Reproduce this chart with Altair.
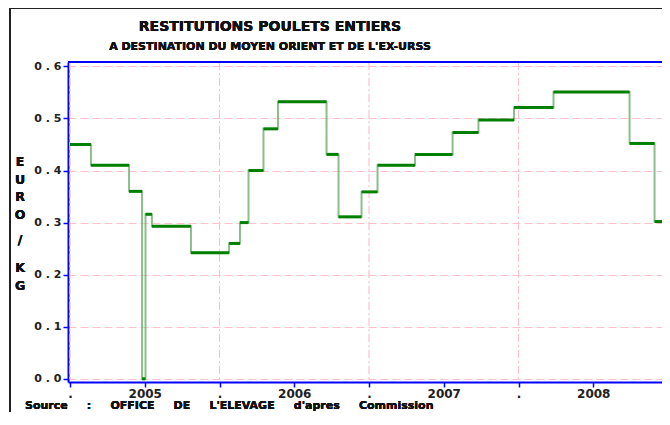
import altair as alt
import pandas as pd

# step start positions (decimal years) and price levels (EURO/KG)
step_start = [2004.500, 2004.640, 2004.895, 2004.982, 2005.005, 2005.048, 2005.309,
              2005.564, 2005.637, 2005.694, 2005.794, 2005.891, 2006.216, 2006.296,
              2006.450, 2006.557, 2006.808, 2007.059, 2007.232, 2007.470, 2007.734,
              2008.243, 2008.410]
step_value = [0.45, 0.41, 0.36, 0.0, 0.316, 0.293, 0.242,
              0.26, 0.30, 0.40, 0.48, 0.532, 0.431, 0.311,
              0.359, 0.41, 0.431, 0.473, 0.497, 0.521, 0.551,
              0.452, 0.302]
series_end = 2008.493

x_ticks = [2004.5, 2005.0, 2005.5, 2006.0, 2006.5, 2007.0, 2007.5, 2008.0, 2008.5]
v_grid = [2004.5, 2005.5, 2006.5, 2007.5]
y_ticks = [0.0, 0.1, 0.2, 0.3, 0.4, 0.5, 0.6]

NB = "\u00a0"
GAP = NB * 5
title_text = "RESTITUTIONS POULETS ENTIERS"
subtitle_text = "A DESTINATION DU MOYEN ORIENT ET DE L'EX-URSS"
source_words = ["Source", ":", "OFFICE", "DE", "L'ELEVAGE", "d'apres", "Commission"]
source_text = GAP.join(source_words)
ytitle_a = ["E", "U", "R", "O"]
ytitle_b = ["/"]
ytitle_c = ["K", "G"]

FONT = "DejaVu Sans"
W, H = 594, 320
xdom = [2004.4866, 2004.4866 + W / 149.5]
ydom = [-0.0061, 0.6084]

ends = step_start[1:] + [series_end]
seg = pd.DataFrame({"x": step_start, "x2": ends, "v": step_value})
line_df = pd.DataFrame({"x": step_start + [series_end], "v": step_value + [step_value[-1]]})
grid_df = pd.DataFrame({"x": v_grid})

xs = alt.Scale(domain=xdom, nice=False, zero=False)
ys = alt.Scale(domain=ydom, nice=False, zero=False)

x_axis = alt.Axis(values=x_ticks, grid=False, title=None,
                  labelExpr="datum.value % 1 == 0 ? format(datum.value, 'd') : '.'",
                  domainColor="#0000ff", domainWidth=2, tickColor="#0000ff", tickWidth=1.5,
                  tickSize=5, labelPadding=1, labelFont=FONT, labelFontSize=12,
                  labelFontWeight="bold", labelColor="#222222")
y_axis = alt.Axis(values=y_ticks, title=None, grid=True, gridColor="#ffc0cb",
                  gridDash=[8, 4], gridWidth=1.2,
                  labelExpr="replace(format(datum.value, '.1f'), '.', ' . ')",
                  domainColor="#0000ff", domainWidth=2, tickColor="#0000ff", tickWidth=1.5,
                  tickSize=5, labelPadding=2, labelFont=FONT, labelFontSize=11,
                  labelFontWeight="bold", labelColor="#222222")

vgrid = alt.Chart(grid_df).mark_rule(color="#ffc0cb", strokeWidth=1.2,
                                     strokeDash=[8, 3, 2, 3]).encode(
    x=alt.X("x:Q", scale=xs, axis=x_axis))

step_line = alt.Chart(line_df).mark_line(interpolate="step-after", color="#6fae6f",
                                          strokeWidth=2, opacity=0.8).encode(
    x=alt.X("x:Q", scale=xs, axis=x_axis),
    y=alt.Y("v:Q", scale=ys, axis=y_axis))

horiz = alt.Chart(seg).mark_rule(color="#008000", strokeWidth=3).encode(
    x=alt.X("x:Q", scale=xs, axis=x_axis), x2="x2:Q",
    y=alt.Y("v:Q", scale=ys, axis=y_axis))

top_line = alt.Chart(grid_df).mark_rule(color="#0000ff", strokeWidth=2).encode(
    x=alt.value(0), x2=alt.value(W), y=alt.value(0))

frame = alt.Chart(grid_df).mark_rect(fill=None, stroke="#222222", strokeWidth=1.5,
                                     clip=False).encode(
    x=alt.value(-58), x2=alt.value(W + 40), y=alt.value(-54), y2=alt.value(H + 80))


def label(text, size, x, y, align="center"):
    return alt.Chart(grid_df).mark_text(text=text, font=FONT, fontSize=size,
                                        fontWeight="bold", color="#111111",
                                        lineHeight=17.5, align=align,
                                        baseline="middle").encode(
        x=alt.value(x), y=alt.value(y))


title = label(title_text, 14, 202, -35)
subtitle = label(subtitle_text, 11, 202, -15)
source = label(source_text, 11, -43, 344, align="left")
yt_a = label(ytitle_a, 12.5, -48, 100)
yt_b = label(ytitle_b, 12.5, -48, 178)
yt_c = label(ytitle_c, 12.5, -48, 206)

chart = alt.layer(vgrid, step_line, horiz, top_line, frame, title, subtitle, source,
                  yt_a, yt_b, yt_c).properties(
    width=W, height=H,
    autosize=alt.AutoSizeParams(type="none"),
    padding={"left": 60, "top": 54, "right": 0, "bottom": 30},
).configure_view(stroke=None).configure(background="white")

chart.save("out.html", embed_options={"renderer": "svg", "actions": False})
